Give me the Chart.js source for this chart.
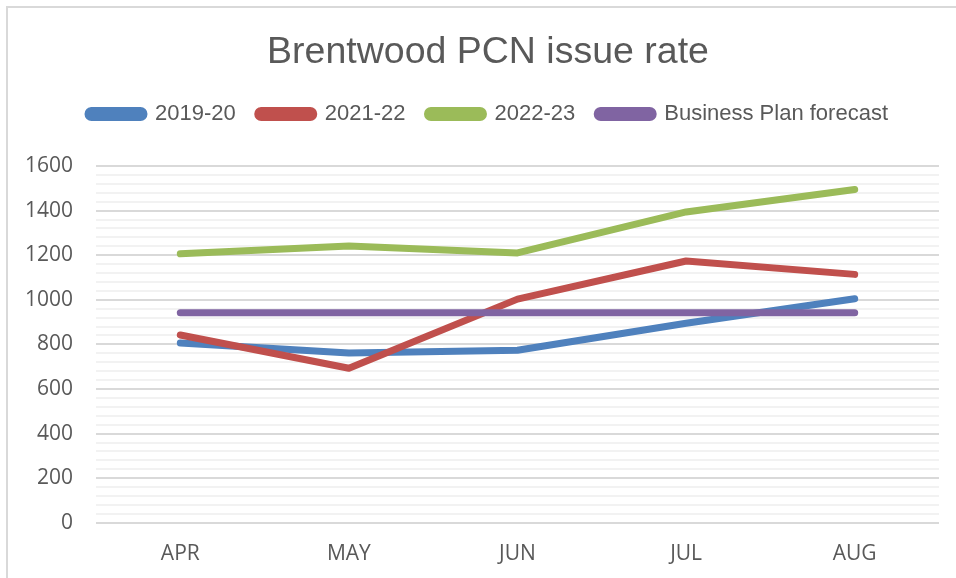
<!DOCTYPE html>
<html>
<head>
<meta charset="utf-8">
<script src="https://cdn.jsdelivr.net/npm/chart.js@4"></script>
<style>
  html, body { margin: 0; padding: 0; background: #fff; }
  .frame {
    position: absolute; left: 6px; top: 6px;
    width: 950px; height: 572px;
    border-left: 2px solid #d9d9d9; border-top: 2px solid #d9d9d9;
  }
  .frame canvas { display: block; }
</style>
</head>
<body>
<div class="frame"><canvas id="mychart" width="948" height="570"></canvas></div>
<script>
// data
const months = ['APR', 'MAY', 'JUN', 'JUL', 'AUG'];
const rate1920 = [806, 761, 774, 895, 1005];
const rate2122 = [842, 693, 1003, 1174, 1114];
const rate2223 = [1206, 1241, 1210, 1394, 1495];
const planForecast = [942, 942, 942, 942, 942];
const yTickLabels = ['0', '200', '400', '600', '800', '1000', '1200', '1400', '1600'];
const minorStep = 40;

const textColor = '#595959';

function line(label, data, color, order) {
  return {
    label: label,
    data: data,
    borderColor: color,
    backgroundColor: color,
    borderWidth: 7,
    borderCapStyle: 'round',
    borderJoinStyle: 'round',
    pointRadius: 0,
    tension: 0,
    yAxisID: 'y',
    order: order
  };
}

// extra room between legend and plot
const legendGap = {
  id: 'legendGap',
  beforeInit(chart) {
    const fit = chart.legend.fit;
    chart.legend.fit = function () {
      fit.bind(chart.legend)();
      this.height += 31;
    };
  }
};

const ctx = document.getElementById('mychart');
new Chart(ctx, {
  type: 'line',
  data: {
    labels: months,
    datasets: [
      line('2019-20', rate1920, '#4F81BD', 4),
      line('2021-22', rate2122, '#C0504D', 3),
      line('2022-23', rate2223, '#9BBB59', 2),
      line('Business Plan forecast', planForecast, '#8064A2', 1)
    ]
  },
  plugins: [legendGap],
  options: {
    responsive: false,
    animation: false,
    layout: { padding: { left: 12, right: 0, top: 0, bottom: -7 } },
    plugins: {
      title: {
        display: true,
        text: 'Brentwood PCN issue rate',
        color: textColor,
        font: { family: 'Liberation Sans', size: 37.5, weight: 'normal' },
        padding: { top: 22, bottom: 6 }
      },
      legend: {
        position: 'top',
        labels: {
          color: textColor,
          font: { family: 'Liberation Sans', size: 22 },
          boxWidth: 56,
          boxHeight: 7,
          useBorderRadius: true,
          borderRadius: 3.5,
          padding: 22,
          sort: (a, b) => a.datasetIndex - b.datasetIndex
        }
      },
      tooltip: { enabled: false }
    },
    scales: {
      x: {
        offset: true,
        grid: { display: false, drawTicks: false },
        border: { display: false },
        ticks: {
          color: textColor,
          font: { family: 'Open Sans', size: 21 },
          padding: 18.5
        }
      },
      y: {
        min: 0,
        max: 1600,
        border: { display: false },
        afterFit: (scale) => { scale.width = 76; },
        afterBuildTicks: (scale) => {
          const ticks = [];
          for (let v = 0; v <= 1600; v += minorStep) ticks.push({ value: v });
          scale.ticks = ticks;
        },
        grid: {
          drawTicks: false,
          lineWidth: 2,
          color: (c) => (c.tick && c.tick.value % 200 === 0) ? '#d9d9d9' : '#f2f2f2'
        },
        ticks: {
          autoSkip: false,
          color: textColor,
          font: { family: 'Open Sans', size: 21 },
          padding: 23,
          callback: (v) => {
            const i = yTickLabels.indexOf(String(v));
            return i >= 0 ? yTickLabels[i] : '';
          }
        }
      },
      yRight: {
        type: 'linear',
        position: 'right',
        grid: { display: false, drawTicks: false },
        border: { display: false },
        ticks: { display: false },
        afterFit: (scale) => { scale.width = 17; }
      }
    }
  }
});
</script>
</body>
</html>
